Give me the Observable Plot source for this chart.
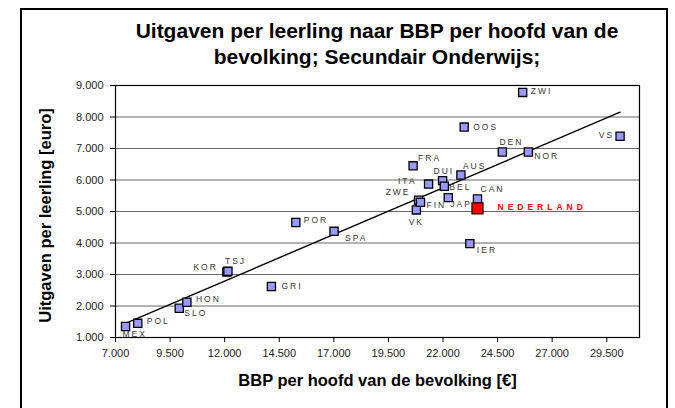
<!DOCTYPE html>
<html><head><meta charset="utf-8">
<script src="https://cdn.jsdelivr.net/npm/d3@7"></script>
<script src="https://cdn.jsdelivr.net/npm/@observablehq/plot@0.6"></script>
<style>
body{margin:0;background:#fff;font-family:"Liberation Sans",Arial,sans-serif;}
#wrap{position:relative;width:675px;height:408px;overflow:hidden;background:#fff;}
#frame{position:absolute;left:20px;top:8px;width:648px;height:440px;border:2px solid #000;box-sizing:border-box;}
#title{position:absolute;left:77px;top:18px;width:600px;text-align:center;font-weight:bold;font-size:21px;line-height:26px;white-space:nowrap;color:#000;}
#chart{position:absolute;left:0;top:70px;}
</style></head>
<body><div id="wrap"><div id="frame"></div>
<div id="title">Uitgaven per leerling naar BBP per hoofd van de<br>bevolking; Secundair Onderwijs;</div>
<div id="chart"></div></div>
<script>
// ---- data ----
const countries = ["MEX","POL","SLO","HON","KOR","TSJ","GRI","POR","SPA","VK","ZWE","FIN","FRA","ITA","DUI","BEL","JAP","AUS","OOS","IER","CAN","NEDERLAND","DEN","ZWI","NOR","VS"];
const gdp      = [7460, 8020, 9920, 10270, 12100, 12150, 14140, 15260, 17010, 20780, 20880, 20970, 20630, 21340, 21980, 22060, 22240, 22820, 22970, 23230, 23580, 23580, 24720, 25650, 25910, 30110];
const spending = [1350, 1450, 1930, 2120, 3080, 3100, 2620, 4650, 4370, 5050, 5360, 5290, 6450, 5870, 5980, 5800, 5440, 6160, 7680, 3980, 5400, 5100, 6890, 8780, 6890, 7390];
const xTicks = [7000, 9500, 12000, 14500, 17000, 19500, 22000, 24500, 27000, 29500];
const yTicks = [1000, 2000, 3000, 4000, 5000, 6000, 7000, 8000, 9000];
const highlight = "NEDERLAND";
const xTitle = "BBP per hoofd van de bevolking [€]";
const yTitle = "Uitgaven per leerling [euro]";

// label placement (code config): [dx, dy, anchor]
const place = {
  MEX:[-3,8,"start"], POL:[9,-2,"start"], SLO:[5,5,"start"], HON:[9,-3,"start"],
  KOR:[-9,-5,"end"], TSJ:[-3,-10,"start"], GRI:[10,0,"start"], POR:[8,-2,"start"],
  SPA:[11,7,"start"], VK:[0,12,"middle"], ZWE:[-8,-8,"end"], FIN:[6,3,"start"],
  FRA:[5,-8,"start"], ITA:[-12,-3,"end"], DUI:[-9,-9,"start"], BEL:[5,1,"start"],
  JAP:[2,7,"start"], AUS:[2,-9,"start"], OOS:[9,0,"start"], IER:[7,7,"start"],
  CAN:[3,-10,"start"], NEDERLAND:[20,-1,"start"], DEN:[-3,-10,"start"], ZWI:[8,-1,"start"],
  NOR:[6,4,"start"], VS:[-6,-1,"end"]
};

const data = countries.map((c, i) => ({c, x: gdp[i], y: spending[i], hl: c === highlight}));
const others = data.filter(d => !d.hl);
const hl = data.filter(d => d.hl);
const loc = d3.formatLocale({decimal: ",", thousands: ".", grouping: [3], currency: ["€", ""]});
const fmt = loc.format(",.0f");

function lbl(sub, opts) {
  return sub.map(d => Plot.text([d], {x: "x", y: "y", text: "c", textAnchor: place[d.c][2],
    dx: place[d.c][0], dy: place[d.c][1], ...opts}));
}

const svg = Plot.plot({
  width: 675, height: 338,
  marginTop: 15, marginBottom: 71, marginLeft: 115, marginRight: 36,
  style: {fontFamily: "'Liberation Sans', Arial, sans-serif", background: "transparent", color: "#000"},
  x: {domain: [7000, 31000], label: null},
  y: {domain: [1000, 9000], label: null},
  marks: [
    Plot.gridY(yTicks, {stroke: "#666", strokeOpacity: 1, strokeWidth: 1}),
    Plot.frame({stroke: "#000", strokeWidth: 1.2}),
    Plot.axisY({ticks: yTicks, tickFormat: fmt, tickSize: 5, tickPadding: 7, fontSize: 11, fill: "#222", label: null}),
    Plot.axisX({ticks: xTicks, tickFormat: fmt, tickSize: 5, tickPadding: 7, fontSize: 11, fill: "#222", label: null}),
    Plot.linearRegressionY(data, {x: "x", y: "y", ci: 0, stroke: "#000", strokeWidth: 1.4}),
    Plot.dot(others, {x: "x", y: "y", symbol: "square", r: 4.6, fill: "#9999FF", stroke: "#000", strokeWidth: 1.3}),
    Plot.dot(hl, {x: "x", y: "y", symbol: "square", r: 6.2, fill: "#FF0000", stroke: "#330000", strokeWidth: 1.3}),
    ...lbl(others, {fontSize: 8.5, fill: "#333"}),
    ...lbl(hl, {fontSize: 8.5, fill: "#FF0000", fontWeight: "bold"}),
    Plot.text([xTitle], {frameAnchor: "bottom", dy: 43, text: d => d, textAnchor: "middle", lineAnchor: "middle", fontSize: 16.5, fontWeight: "bold", fill: "#000"}),
    Plot.text([yTitle], {frameAnchor: "left", dx: -70, dy: 4, rotate: -90, text: d => d, textAnchor: "middle", lineAnchor: "middle", fontSize: 16.5, fontWeight: "bold", fill: "#000"})
  ]
});
d3.select(svg).selectAll('g[aria-label="text"] text').each(function() {
  const t = this.textContent;
  if (t === highlight) this.setAttribute("letter-spacing", "4px");
  else if (countries.includes(t)) this.setAttribute("letter-spacing", "2px");
});
document.getElementById("chart").appendChild(svg);
</script>
</body></html>
